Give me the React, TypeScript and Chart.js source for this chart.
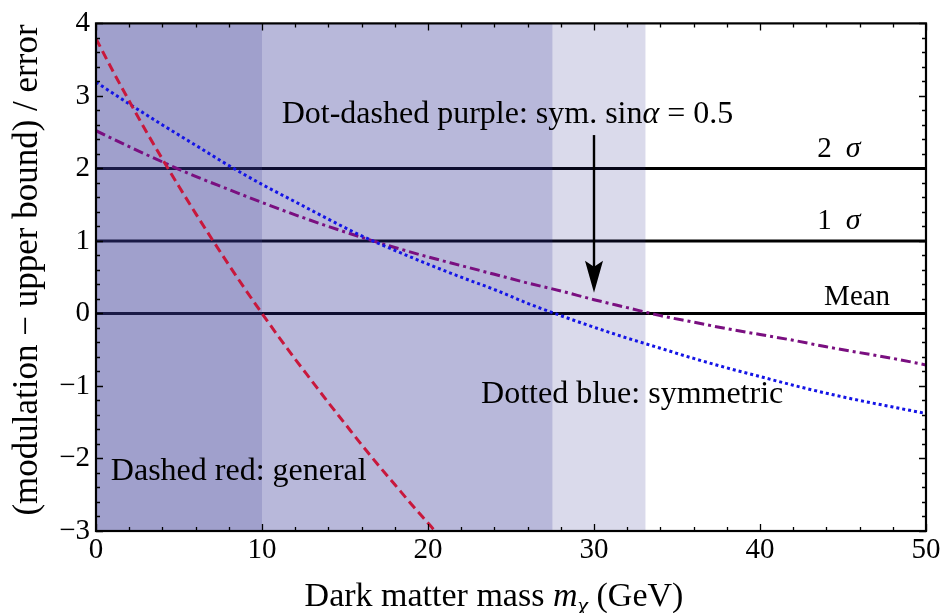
import React, { useEffect, useRef } from "react";
import { Chart, registerables } from "chart.js";
Chart.register(...registerables);

// ---------- data ----------
const redMass = [0, 1, 2, 3, 4, 5, 6, 7, 8, 9, 10, 11, 12, 13, 14, 15, 16, 17, 18, 19, 20, 21];
const redGeneral = [3.79, 3.35, 2.93, 2.52, 2.13, 1.75, 1.38, 1.02, 0.67, 0.33, 0, -0.32, -0.63, -0.93, -1.23, -1.52, -1.81, -2.09, -2.36, -2.63, -2.89, -3.15];
const symMass = [0, 2, 4, 6, 8, 10, 12, 14, 16, 18, 20, 22, 24, 26, 28, 30, 32, 34, 36, 38, 40, 42, 44, 46, 48, 50];
const blueSymmetric = [3.19, 2.89, 2.6, 2.32, 2.04, 1.78, 1.54, 1.3, 1.07, 0.87, 0.68, 0.5, 0.33, 0.14, -0.03, -0.19, -0.34, -0.48, -0.62, -0.75, -0.87, -0.99, -1.1, -1.2, -1.29, -1.38];
const purpleSinHalf = [2.52, 2.3, 2.09, 1.89, 1.71, 1.53, 1.36, 1.2, 1.05, 0.91, 0.78, 0.66, 0.54, 0.42, 0.31, 0.19, 0.08, -0.03, -0.12, -0.21, -0.29, -0.37, -0.46, -0.54, -0.62, -0.71];
const levelValues = [2, 1, 0];
const levelLabels = ["2", "1", "Mean"];
const xRange = [0, 50];
const yRange = [-3, 4];
const xTickValues = [0, 10, 20, 30, 40, 50];
const yTickValues = [-3, -2, -1, 0, 1, 2, 3, 4];
const bandEdges = [0, 10, 27.5, 33.1];
const arrowMass = 30;
const arrowFrom = 2.46;
const arrowTo = 0.285;

// ---------- styles ----------
const FONT = "'Liberation Serif', 'Times New Roman', serif";
const bandFills = ["rgba(55,55,148,0.475)", "rgba(40,40,143,0.33)", "rgba(37,37,137,0.17)"];

type Part = { t: string; italic?: boolean; size: number; dy?: number; gap?: number };

function drawRich(ctx: CanvasRenderingContext2D, parts: Part[], x: number, y: number, align: "left" | "center" | "right") {
  let total = 0;
  const widths: number[] = [];
  for (const p of parts) {
    ctx.font = `${p.italic ? "italic " : ""}${p.size}px ${FONT}`;
    const w = ctx.measureText(p.t).width + (p.gap || 0);
    widths.push(w);
    total += w;
  }
  let cx = align === "left" ? x : align === "center" ? x - total / 2 : x - total;
  ctx.textAlign = "left";
  ctx.textBaseline = "alphabetic";
  parts.forEach((p, i) => {
    ctx.font = `${p.italic ? "italic " : ""}${p.size}px ${FONT}`;
    ctx.fillText(p.t, cx, y + (p.dy || 0));
    cx += widths[i];
  });
}

const decorPlugin = {
  id: "decor",
  afterDatasetDraw(chart: any, args: any) {
    // translucent shading laid over the horizontal reference lines
    if (args.index !== 3) return;
    const { ctx, chartArea, scales } = chart;
    const xs = scales.x;
    ctx.save();
    for (let i = 0; i < bandEdges.length - 1; i++) {
      const a = xs.getPixelForValue(bandEdges[i]);
      const b = xs.getPixelForValue(bandEdges[i + 1]);
      ctx.fillStyle = bandFills[i];
      ctx.fillRect(a, chartArea.top, b - a, chartArea.bottom - chartArea.top);
    }
    ctx.restore();
  },
  afterDraw(chart: any) {
    const { ctx, chartArea, scales } = chart;
    const xs = scales.x;
    const ys = scales.y;
    const { left, right, top, bottom } = chartArea;
    ctx.save();
    ctx.fillStyle = "#000";
    ctx.strokeStyle = "#000";

    // ticks (inward, all four sides)
    ctx.lineWidth = 1.3;
    ctx.beginPath();
    for (let v = xRange[0]; v <= xRange[1] + 1e-9; v += 2) {
      const px = Math.round(xs.getPixelForValue(v)) + 0.5;
      const len = Math.abs(v % 10) < 1e-9 ? 7 : 4;
      ctx.moveTo(px, bottom);
      ctx.lineTo(px, bottom - len);
      ctx.moveTo(px, top);
      ctx.lineTo(px, top + len);
    }
    for (let k = 0; k <= 35; k++) {
      const v = yRange[0] + k * 0.2;
      const py = Math.round(ys.getPixelForValue(v)) + 0.5;
      const len = k % 5 === 0 ? 7 : 4;
      ctx.moveTo(left, py);
      ctx.lineTo(left + len, py);
      ctx.moveTo(right, py);
      ctx.lineTo(right - len, py);
    }
    ctx.stroke();

    // frame
    ctx.lineWidth = 2.2;
    ctx.strokeRect(left, top, right - left, bottom - top);

    // arrow
    const ax = xs.getPixelForValue(arrowMass);
    const ay0 = ys.getPixelForValue(arrowFrom);
    const ay1 = ys.getPixelForValue(arrowTo);
    ctx.lineWidth = 2.4;
    ctx.beginPath();
    ctx.moveTo(ax, ay0);
    ctx.lineTo(ax, ay1 - 20);
    ctx.stroke();
    ctx.beginPath();
    ctx.moveTo(ax, ay1);
    ctx.lineTo(ax - 9, ay1 - 32);
    ctx.lineTo(ax, ay1 - 26);
    ctx.lineTo(ax + 9, ay1 - 32);
    ctx.closePath();
    ctx.fill();

    const S = 32;
    const at = (x: number, y: number) => [xs.getPixelForValue(x), ys.getPixelForValue(y)];

    // annotations
    let p = at(24.79, 2.63);
    drawRich(ctx, [
      { t: "Dot-dashed purple: sym. sin", size: S },
      { t: "α", italic: true, size: S },
      { t: " = 0.5", size: S },
    ], p[0], p[1], "center");

    p = at(44.75, 2.16);
    drawRich(ctx, [{ t: levelLabels[0], size: 29, gap: 14 }, { t: "σ", italic: true, size: 30 }], p[0], p[1], "center");
    p = at(44.75, 1.17);
    drawRich(ctx, [{ t: levelLabels[1], size: 29, gap: 14 }, { t: "σ", italic: true, size: 30 }], p[0], p[1], "center");
    p = at(45.85, 0.12);
    drawRich(ctx, [{ t: levelLabels[2], size: 29 }], p[0], p[1], "center");

    p = at(32.3, -1.23);
    drawRich(ctx, [{ t: "Dotted blue: symmetric", size: S }], p[0], p[1], "center");
    p = at(8.6, -2.29);
    drawRich(ctx, [{ t: "Dashed red: general", size: S }], p[0], p[1], "center");

    // x title
    drawRich(ctx, [
      { t: "Dark matter mass ", size: 34 },
      { t: "m", italic: true, size: 34 },
      { t: "χ", italic: true, size: 24, dy: 7 },
      { t: " (GeV)", size: 34 },
    ], 494, 606, "center");

    // y title
    ctx.save();
    ctx.translate(37, 270);
    ctx.rotate(-Math.PI / 2);
    drawRich(ctx, [{ t: "(modulation − upper bound) / error", size: 35 }], 0, 0, "center");
    ctx.restore();

    ctx.restore();
  },
};

export default function App() {
  const ref = useRef<HTMLCanvasElement | null>(null);
  useEffect(() => {
    document.body.style.margin = "0";
    const canvas = ref.current!;
    const line = (vals: number[], xs: number[]) => xs.map((x, i) => ({ x, y: vals[i] }));
    const level = (v: number) => [{ x: xRange[0], y: v }, { x: xRange[1], y: v }];
    const common = { pointRadius: 0, borderWidth: 3, fill: false, borderCapStyle: "butt" as const };
    const chart = new Chart(canvas, {
      type: "line",
      data: {
        datasets: [
          { ...common, label: "red", data: line(redGeneral, redMass), borderColor: "#c8183c", borderDash: [9, 5], cubicInterpolationMode: "monotone" },
          { ...common, label: "blue", data: line(blueSymmetric, symMass), borderColor: "#1414e6", borderDash: [3, 3], cubicInterpolationMode: "monotone" },
          { ...common, label: "purple", data: line(purpleSinHalf, symMass), borderColor: "#7a0f80", borderDash: [10, 4, 3, 4], cubicInterpolationMode: "monotone" },
          { ...common, label: levelLabels[2], data: level(levelValues[2]), borderColor: "#000" },
          { ...common, label: levelLabels[1], data: level(levelValues[1]), borderColor: "#000" },
          { ...common, label: levelLabels[0], data: level(levelValues[0]), borderColor: "#000" },
        ],
      },
      options: {
        animation: false,
        responsive: false,
        devicePixelRatio: 1,
        layout: { padding: { top: 16, right: 19, left: 0, bottom: 0 } },
        plugins: { legend: { display: false }, tooltip: { enabled: false } },
        scales: {
          x: {
            type: "linear",
            min: xRange[0],
            max: xRange[1],
            grid: { display: false, drawTicks: false },
            border: { display: false },
            afterFit: (s: any) => { s.height = 82; },
            afterBuildTicks: (s: any) => { s.ticks = xTickValues.map((v) => ({ value: v })); },
            ticks: { color: "#000", font: { family: FONT, size: 29 }, padding: 2, maxRotation: 0, autoSkip: false },
          },
          y: {
            type: "linear",
            min: yRange[0],
            max: yRange[1],
            grid: { display: false, drawTicks: false },
            border: { display: false },
            afterFit: (s: any) => { s.width = 96; },
            afterBuildTicks: (s: any) => { s.ticks = yTickValues.map((v) => ({ value: v })); },
            ticks: {
              color: "#000",
              font: { family: FONT, size: 29 },
              padding: 6,
              callback: (v: any) => String(v).replace("-", "−"),
            },
          },
        },
      },
      plugins: [decorPlugin],
    });
    return () => chart.destroy();
  }, []);
  return <canvas ref={ref} width={945} height={613} style={{ display: "block", width: 945, height: 613 }} />;
}
